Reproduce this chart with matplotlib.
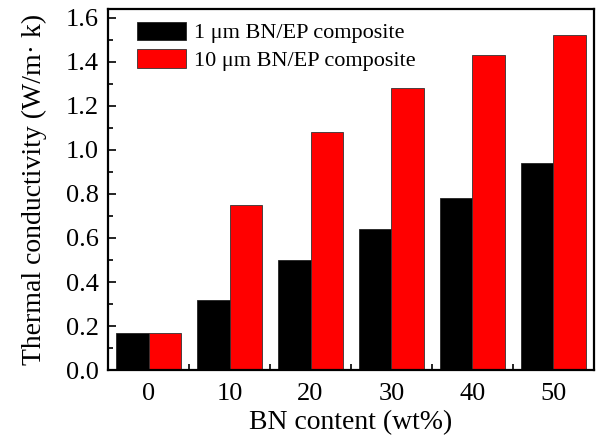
import numpy as np
import matplotlib
matplotlib.use("Agg")
import matplotlib.pyplot as plt
from matplotlib.ticker import MultipleLocator, FixedLocator

# BN loading (wt%) and thermal conductivity (W/m·K)
bn_content = [0, 10, 20, 30, 40, 50]
tc_1um = [0.17, 0.32, 0.50, 0.64, 0.78, 0.94]
tc_10um = [0.17, 0.75, 1.08, 1.28, 1.43, 1.52]
labels = ["1 \u03bcm BN/EP composite", "10 \u03bcm BN/EP composite"]

plt.rcParams['font.family'] = ['Liberation Serif', 'DejaVu Serif']

fig = plt.figure(figsize=(6.01, 4.47), dpi=100)
ax = fig.add_axes([0.18, 0.172, 0.808, 0.808])

x = np.array(bn_content)
w = 4
ax.bar(x - w / 2, tc_1um, width=w, color='black', edgecolor='#222222',
       linewidth=0.6, label=labels[0])
ax.bar(x + w / 2, tc_10um, width=w, color='#ff0000', edgecolor='#333333',
       linewidth=0.6, label=labels[1])

ax.set_xlim(-5, 55)
ax.set_ylim(0, 1.64)

ax.set_xticks(bn_content)
ax.xaxis.set_minor_locator(FixedLocator([5, 15, 25, 35, 45]))
ax.yaxis.set_major_locator(MultipleLocator(0.2))
ax.yaxis.set_minor_locator(MultipleLocator(0.1))
ax.set_yticklabels([f"{v:.1f}" for v in ax.get_yticks()])

ax.tick_params(axis='x', which='major', length=0, labelsize=19, pad=9)
ax.tick_params(axis='x', which='minor', direction='in', length=4, width=1.2)
ax.tick_params(axis='y', which='major', direction='in', length=6, width=1.2,
               labelsize=19, pad=6.5)
ax.tick_params(axis='y', which='minor', direction='in', length=3.5, width=1.2)

for s in ax.spines.values():
    s.set_linewidth(1.6)

ax.set_xlabel("BN content (wt%)", fontsize=20, labelpad=4)
ax.set_ylabel("Thermal conductivity (W/m\u00b7 k)", fontsize=20, labelpad=14)

ax.legend(loc='upper left', bbox_to_anchor=(0.06, 0.965), frameon=False,
          fontsize=16, handlelength=2.2, handleheight=0.9,
          handletextpad=0.36, labelspacing=0.27, borderpad=0,
          borderaxespad=0)

fig.savefig("out.png", dpi=100)
